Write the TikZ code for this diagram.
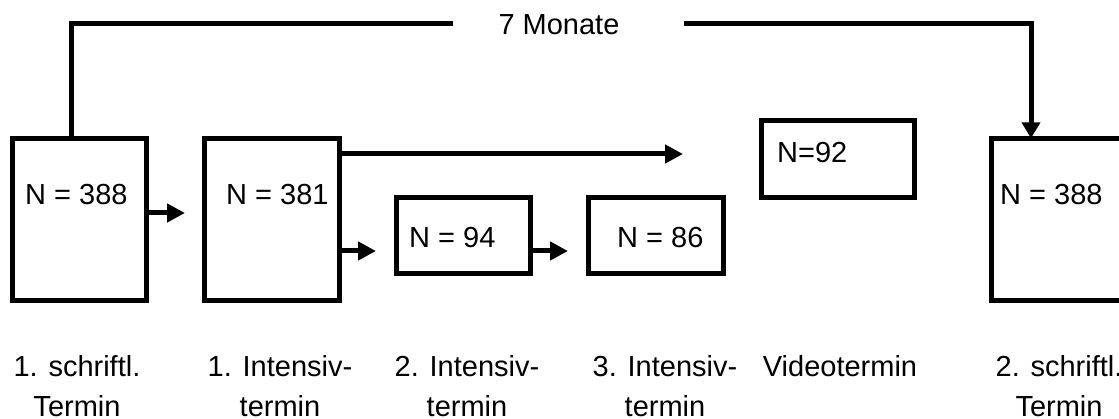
\documentclass[tikz,border=0pt]{standalone}
\usepackage{fontspec}
\setmainfont{Liberation Sans}
\usetikzlibrary{arrows.meta}
\tikzset{
  box/.style={draw, line width=4.7pt, rectangle, inner sep=0pt, outer sep=0pt},
  conn/.style={line width=5pt},
  arr/.style={conn, -{Triangle[length=18pt,width=18pt]}},
  darr/.style={conn, -{Triangle[length=16pt,width=18pt]}},
  num/.style={anchor=base west, inner sep=0pt, font=\fontsize{29}{35}\selectfont},
  lab/.style={anchor=base, inner sep=0pt, font=\fontsize{29}{35}\selectfont},
  blab/.style={anchor=base, inner sep=0pt, font=\fontsize{29}{40}\selectfont},
}
\begin{document}
\begin{tikzpicture}[x=1pt,y=-1pt]
\useasboundingbox (0,0) rectangle (1119,419);
% boxes
\node[box, minimum width=134.4pt, minimum height=162.4pt] (b1) at (79.5,219.5) {};
\node[box, minimum width=135.4pt, minimum height=162.4pt] (b2) at (272,219.5) {};
\node[box, minimum width=134.4pt, minimum height=76.4pt] (b3) at (463.5,235.5) {};
\node[box, minimum width=135.4pt, minimum height=76.4pt] (b4) at (656,235.5) {};
\node[box, minimum width=153.4pt, minimum height=77.4pt] (b5) at (838,159) {};
\node[box, minimum width=134.4pt, minimum height=162.4pt] (b6) at (1058.5,219.5) {};
% numbers
\node[num] (t1) at (25,205) {N = 388};
\node[num] (t2) at (226,205) {N = 381};
\node[num] (t3) at (409,248) {N = 94};
\node[num] (t4) at (617,248) {N = 86};
\node[num] (t5) at (777,163) {N=92};
\node[num] (t6) at (1000,205) {N = 388};
% free arrow ends
\coordinate (a1) at (185,213);
\coordinate (a2) at (683,154);
\coordinate (a3) at (376,251);
\coordinate (a4) at (568,251);
\draw[arr] (b1.east |- a1) -- (a1);
\draw[arr] (b2.east |- a2) -- (a2);
\draw[arr] (b2.east |- a3) -- (a3);
\draw[arr] (b3.east |- a4) -- (a4);
% top connector
\coordinate (c1) at (71,24);
\coordinate (l1) at (453,24);
\coordinate (l2) at (684,24);
\coordinate (c2) at (1031,24);
\node[lab] (m) at (559,35) {7 Monate};
\draw[conn] (c1 |- b1.north) -- (c1) -- (l1);
\draw[darr] (l2) -- (c2) -- (c2 |- b6.north);
% bottom labels
\node[blab] (L1) at (77,377) {\begin{tabular}[t]{@{}c@{}}1. schriftl.\\Termin\end{tabular}};
\node[blab] (L2) at (280,377) {\begin{tabular}[t]{@{}c@{}}1. Intensiv-\\termin\end{tabular}};
\node[blab] (L3) at (467,377) {\begin{tabular}[t]{@{}c@{}}2. Intensiv-\\termin\end{tabular}};
\node[blab] (L4) at (665,377) {\begin{tabular}[t]{@{}c@{}}3. Intensiv-\\termin\end{tabular}};
\node[blab] (L5) at (840,377) {Videotermin};
\node[blab] (L6) at (1059,377) {\begin{tabular}[t]{@{}c@{}}2. schriftl.\\Termin\end{tabular}};
\end{tikzpicture}
\end{document}
